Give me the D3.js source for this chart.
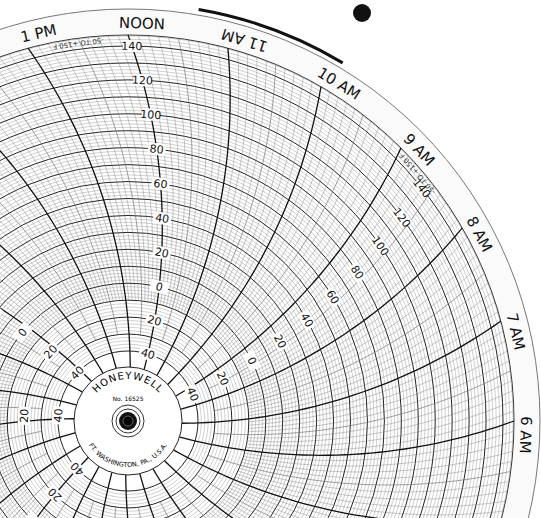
<!DOCTYPE html>
<html><head><meta charset="utf-8">
<script src="https://cdn.jsdelivr.net/npm/d3@7"></script>
<style>body{margin:0;background:#fff}svg{display:block}</style>
</head><body>
<svg id="c" width="541" height="518"></svg>
<script>
// ---- data ----
const hourLabels = ["NOON","11 AM","10 AM","9 AM","8 AM","7 AM","6 AM","5 AM","4 AM","1 PM","2 PM"];
const hourValues = [12,11,10,9,8,7,6,5,4,13,14];
const valueTicks = [-40,-20,0,20,40,60,80,100,120,140];
const labelColumnsHours = [12, 8.6, 16.2, 18.8, 22.0];
const rangeText = "-50 TO +150 F";

const cx=128, cy=421, Rout=386, Ra=560, Rhub=54;
const svg=d3.select("#c");
const r=d3.scaleLinear().domain([-40,140]).range([70,375]);
const ang=d3.scaleLinear().domain([12,6]).range([0,Math.PI/2]);

function pt(a,rr){return [cx+rr*Math.sin(a), cy-rr*Math.cos(a)];}
function arcAngle(theta,rr){return theta+(Math.acos(rr/(2*Ra))-Math.acos(Rout/(2*Ra)));}

const g=svg.append("g");
g.append("circle").attr("cx",cx).attr("cy",cy).attr("r",412).attr("fill","#fafafa").attr("stroke","#777").attr("stroke-width",1);
g.append("circle").attr("cx",cx).attr("cy",cy).attr("r",Rout).attr("fill","#fff").attr("stroke","#333").attr("stroke-width",1);

for(let v=-40; v<=146; v+=2){
  const major=v%10===0;
  if(r(v)>Rout) break;
  g.append("circle").attr("cx",cx).attr("cy",cy).attr("r",r(v)).attr("fill","none")
   .attr("stroke",major?"#222":"#888").attr("stroke-width",major?1.0:0.4);
}
const line=d3.line().curve(d3.curveBasis);
for(let m=0;m<24*60;m+=6){
  const h=m/60, theta=ang(h);
  const isHour=m%60===0, isHalf=m%30===0;
  const r0=isHour?Rhub:(isHalf?r(-30):r(-10));
  const pts=d3.range(0,41).map(i=>{const rr=r0+(Rout-r0)*i/40;return pt(arcAngle(theta,rr),rr);});
  g.append("path").attr("d",line(pts)).attr("fill","none")
   .attr("stroke",isHour?"#111":"#777").attr("stroke-width",isHour?1.3:(isHalf?0.7:0.4));
}
labelColumnsHours.forEach(hc=>{
  const theta=ang(hc);
  valueTicks.forEach(v=>{
    const rr=r(v); const a=arcAngle(theta,rr); const [x,y]=pt(a,rr);
    g.append("rect").attr("x",x-9).attr("y",y-6).attr("width",18).attr("height",12).attr("fill","#fff")
     .attr("transform",`rotate(${a*180/Math.PI},${x},${y})`);
    g.append("text").attr("x",x).attr("y",y).attr("text-anchor","middle").attr("dy","0.35em")
     .attr("font-family","DejaVu Sans").attr("font-size",11).attr("fill","#111")
     .attr("transform",`rotate(${a*180/Math.PI},${x},${y})`).text(Math.abs(v));
  });
});
[[12.5,r(146)],[8.7,r(146)]].forEach(([h,rr])=>{
  const a=ang(h);const [x,y]=pt(a,rr-2);
  g.append("text").attr("x",x).attr("y",y).attr("text-anchor","middle").attr("font-family","DejaVu Sans")
   .attr("font-size",7).attr("fill","#333").attr("transform",`rotate(${a*180/Math.PI+180},${x},${y})`).text(rangeText);
});
hourLabels.forEach((t,i)=>{
  const a=ang(hourValues[i])+0.035; const [x,y]=pt(a,398);
  const rot=a*180/Math.PI+(t==="11 AM"?180:0);
  g.append("text").attr("x",x).attr("y",y).attr("text-anchor","middle").attr("dy","0.35em")
   .attr("font-family","DejaVu Sans").attr("font-size",15).attr("fill","#111")
   .attr("transform",`rotate(${rot},${x},${y})`).text(t);
});
const arcG=d3.arc().innerRadius(416).outerRadius(419).startAngle(0.17).endAngle(0.54);
g.append("path").attr("d",arcG()).attr("transform",`translate(${cx},${cy})`).attr("fill","#111");
g.append("circle").attr("cx",362).attr("cy",13).attr("r",9).attr("fill","#111");

g.append("circle").attr("cx",cx).attr("cy",cy).attr("r",Rhub).attr("fill","#fff").attr("stroke","#222");
const defs=svg.append("defs");
defs.append("path").attr("id","top").attr("d",`M${cx-42},${cy} A42,42 0 0,1 ${cx+42},${cy}`);
defs.append("path").attr("id","bot").attr("d",`M${cx-46},${cy} A46,46 0 0,0 ${cx+46},${cy}`);
g.append("text").attr("font-family","DejaVu Sans").attr("font-size",10).attr("letter-spacing",1)
 .append("textPath").attr("href","#top").attr("startOffset","50%").attr("text-anchor","middle").text("HONEYWELL");
g.append("text").attr("font-family","DejaVu Sans").attr("font-size",6.5)
 .append("textPath").attr("href","#bot").attr("startOffset","50%").attr("text-anchor","middle").text("FT. WASHINGTON, PA., U.S.A.");
g.append("text").attr("x",cx).attr("y",cy-20).attr("text-anchor","middle").attr("font-family","DejaVu Sans").attr("font-size",6).text("No. 16525");
[16,12].forEach(rr=>g.append("circle").attr("cx",cx).attr("cy",cy).attr("r",rr).attr("fill","none").attr("stroke","#333").attr("stroke-width",1));
g.append("circle").attr("cx",cx).attr("cy",cy).attr("r",9).attr("fill","#111");
g.append("circle").attr("cx",cx).attr("cy",cy).attr("r",5).attr("fill","#000").attr("stroke","#666");
</script>
</body></html>
